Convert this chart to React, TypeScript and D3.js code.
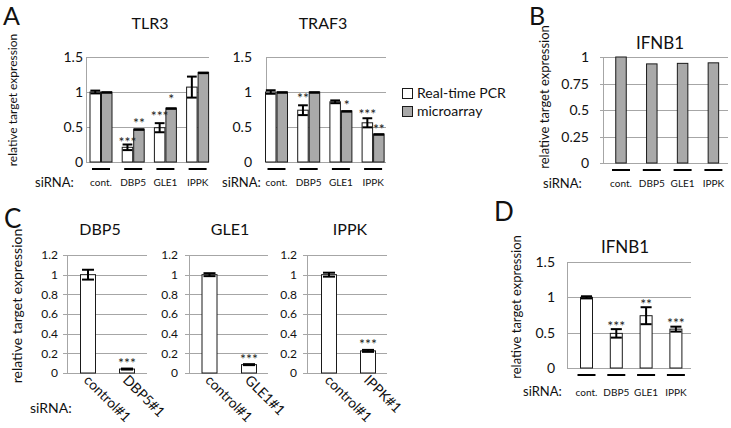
import * as d3 from 'd3'

const FONT = 'Lato, "Open Sans", sans-serif'
const GRID = '#a6a6a6'
const GRAY = '#a9a9a9'
const EDGE = '#1a1a1a'

// categories for A, B, D
const sirnaCats = ['cont.', 'DBP5', 'GLE1', 'IPPK']

// A - TLR3
const tlr3Pcr = [1.0, 0.21, 0.49, 1.07]
const tlr3PcrErr = [0.02, 0.04, 0.065, 0.15]
const tlr3PcrStars = ['', '***', '***', '']
const tlr3PcrStarAt = [0, 0.335, 0.7, 0]
const tlr3Micro = [1.0, 0.47, 0.77, 1.28]
const tlr3MicroErr = [0, 0, 0, 0]
const tlr3MicroStars = ['', '**', '*', '']
const tlr3MicroStarAt = [0, 0.6, 0.94, 0]

// A - TRAF3
const traf3Pcr = [1.0, 0.74, 0.86, 0.56]
const traf3PcrErr = [0.025, 0.07, 0.02, 0.065]
const traf3PcrStars = ['', '**', '', '***']
const traf3PcrStarAt = [0, 0.95, 0, 0.73]
const traf3Micro = [1.0, 1.0, 0.73, 0.4]
const traf3MicroErr = [0, 0, 0, 0]
const traf3MicroStars = ['', '', '*', '**']
const traf3MicroStarAt = [0, 0, 0.86, 0.51]

const ticksA = [0, 0.5, 1, 1.5]

// B - IFNB1 microarray
const ifnb1Micro = [1.0, 0.935, 0.94, 0.945]
const ticksB = [0, 0.25, 0.5, 0.75, 1]

// C - single siRNA knockdowns
const dbp5Cats = ['control#1', 'DBP5#1']
const dbp5Vals = [1.0, 0.04]
const dbp5Err = [0.05, 0.005]
const dbp5Stars = ['', '***']
const dbp5StarAt = [0, 0.13]

const gle1Cats = ['control#1', 'GLE1#1']
const gle1Vals = [1.0, 0.085]
const gle1Err = [0.015, 0.005]
const gle1Stars = ['', '***']
const gle1StarAt = [0, 0.17]

const ippkCats = ['control#1', 'IPPK#1']
const ippkVals = [1.0, 0.225]
const ippkErr = [0.02, 0.01]
const ippkStars = ['', '***']
const ippkStarAt = [0, 0.33]

const ticksC = [0, 0.2, 0.4, 0.6, 0.8, 1, 1.2]

// D - IFNB1 real-time PCR
const ifnb1Pcr = [1.0, 0.49, 0.74, 0.55]
const ifnb1PcrErr = [0.015, 0.06, 0.12, 0.035]
const ifnb1Stars = ['', '***', '**', '***']
const ifnb1StarAt = [0, 0.64, 0.95, 0.68]

interface Series {
  values: number[]
  errors?: number[]
  fill: string
  stars?: string[]
  starAt?: number[]
}

interface Frame {
  axisX: number
  gridEnd: number
  tickLen: number
  c0: number
  step: number
  barW: number
  yBase: number
  yTopPx: number
  yTopVal: number
  labelEnd: number
  tickFont: number
  title: string
  titleX: number
  titleY: number
  titleFont: number
  rotated?: boolean
  catY?: number
}

const STAR_FS = 14

function BarPanel({ cats, series, ticks, f }: { cats: string[]; series: Series[]; ticks: number[]; f: Frame }) {
  const groupW = f.barW * series.length
  const pi = 1 - groupW / f.step
  const x = d3.scaleBand<string>()
    .domain(cats)
    .range([f.c0 - f.step / 2, f.c0 + (cats.length - 0.5) * f.step])
    .paddingInner(pi)
    .paddingOuter(pi / 2)
  const xi = d3.scaleBand<number>().domain(series.map((_, i) => i)).range([0, x.bandwidth()])
  const y = d3.scaleLinear().domain([0, f.yTopVal]).range([f.yBase, f.yTopPx])
  const fmt = (v: number) => (v === 0 ? '0' : d3.format('')(+v.toFixed(2)))
  const capW = Math.min(xi.bandwidth() * 0.85, 12)

  return (
    <g>
      <text x={f.titleX} y={f.titleY} textAnchor="middle" fontSize={f.titleFont} fill="#111">{f.title}</text>
      {ticks.map((t) => (
        <g key={t}>
          <line x1={f.axisX - f.tickLen} x2={f.gridEnd} y1={Math.round(y(t)) + 0.5} y2={Math.round(y(t)) + 0.5} stroke={GRID} strokeWidth={1} />
          <text x={f.labelEnd} y={y(t)} dy="0.36em" textAnchor="end" fontSize={f.tickFont} fill="#111">{fmt(t)}</text>
        </g>
      ))}
      <line x1={f.axisX + 0.5} x2={f.axisX + 0.5} y1={y(ticks[ticks.length - 1])} y2={f.yBase} stroke={GRID} strokeWidth={1} />
      {series.map((s, si) => (
        <g key={si}>
          {cats.map((c, ci) => {
            const bx = (x(c) ?? 0) + (xi(si) ?? 0)
            const v = s.values[ci]
            return (
              <rect key={c} x={bx + 0.5} y={y(v)} width={xi.bandwidth() - 1} height={f.yBase - y(v)}
                fill={s.fill} stroke={EDGE} strokeWidth={1} />
            )
          })}
        </g>
      ))}
      {series.map((s, si) => (
        <g key={'e' + si}>
          {s.errors && cats.map((c, ci) => {
            const cx = (x(c) ?? 0) + (xi(si) ?? 0) + xi.bandwidth() / 2
            const v = s.values[ci]
            const e = s.errors![ci]
            if (e === 0) {
              return <line key={c} x1={cx - xi.bandwidth() / 2 + 0.5} x2={cx + xi.bandwidth() / 2 - 0.5} y1={y(v) + 0.5} y2={y(v) + 0.5} stroke="#000" strokeWidth={2.5} />
            }
            return (
              <g key={c} stroke="#000" strokeWidth={2}>
                <line x1={cx} x2={cx} y1={y(v + e)} y2={y(v - e)} />
                <line x1={cx - capW / 2} x2={cx + capW / 2} y1={y(v + e)} y2={y(v + e)} />
                <line x1={cx - capW / 2} x2={cx + capW / 2} y1={y(v - e)} y2={y(v - e)} />
              </g>
            )
          })}
          {s.stars && cats.map((c, ci) => {
            const st = s.stars![ci]
            if (!st) return null
            const cx = (x(c) ?? 0) + (xi(si) ?? 0) + xi.bandwidth() / 2
            return (
              <text key={c} x={cx} y={y(s.starAt![ci]) + STAR_FS * 0.57} textAnchor="middle" fontSize={STAR_FS} fill="#222">{st}</text>
            )
          })}
        </g>
      ))}
      {cats.map((c) => {
        const cx = (x(c) ?? 0) + x.bandwidth() / 2
        if (f.rotated) {
          return (
            <text key={c} x={cx - 5} y={f.yBase + 8} fontSize={14} fill="#111"
              transform={`rotate(45 ${cx - 5} ${f.yBase + 8})`}>{c}</text>
          )
        }
        return (
          <g key={c}>
            <line x1={cx - 9} x2={cx + 9} y1={f.yBase + 7} y2={f.yBase + 7} stroke="#000" strokeWidth={2} />
            <text x={cx} y={f.catY ?? f.yBase + 24} textAnchor="middle" fontSize={10} fill="#111">{c}</text>
          </g>
        )
      })}
    </g>
  )
}

function YLabel({ x, y, size }: { x: number; y: number; size: number }) {
  return (
    <text transform={`translate(${x},${y}) rotate(-90)`} textAnchor="middle" fontSize={size} fill="#111">
      relative target expression
    </text>
  )
}

export default function App() {
  const base = { tickLen: 0, tickFont: 14, titleFont: 16 }
  return (
    <svg width={731} height={428} viewBox="0 0 731 428"
      style={{ position: 'absolute', left: 0, top: 0, background: '#fff', fontFamily: FONT }}>
      {/* panel letters */}
      <text x={3} y={25} fontSize={25} fill="#111">A</text>
      <text x={529} y={25} fontSize={25} fill="#111">B</text>
      <text x={4} y={228} fontSize={26} fill="#111">C</text>
      <text x={494} y={221} fontSize={26} fill="#111">D</text>

      {/* A */}
      <YLabel x={17} y={100} size={12} />
      <BarPanel cats={sirnaCats} ticks={ticksA}
        series={[
          { values: tlr3Pcr, errors: tlr3PcrErr, fill: '#fff', stars: tlr3PcrStars, starAt: tlr3PcrStarAt },
          { values: tlr3Micro, errors: tlr3MicroErr, fill: GRAY, stars: tlr3MicroStars, starAt: tlr3MicroStarAt },
        ]}
        f={{ ...base, axisX: 86, gridEnd: 209, c0: 101, step: 32.2, barW: 11.5, yBase: 162, yTopPx: 57, yTopVal: 1.5,
          labelEnd: 83, title: 'TLR3', titleX: 150, titleY: 29 }} />
      <text x={35} y={187} fontSize={13} fill="#111">siRNA:</text>
      <BarPanel cats={sirnaCats} ticks={ticksA}
        series={[
          { values: traf3Pcr, errors: traf3PcrErr, fill: '#fff', stars: traf3PcrStars, starAt: traf3PcrStarAt },
          { values: traf3Micro, errors: traf3MicroErr, fill: GRAY, stars: traf3MicroStars, starAt: traf3MicroStarAt },
        ]}
        f={{ ...base, axisX: 266, gridEnd: 386, c0: 276.5, step: 32.2, barW: 11.5, yBase: 162, yTopPx: 57, yTopVal: 1.5,
          labelEnd: 252, title: 'TRAF3', titleX: 323, titleY: 29 }} />
      <text x={222} y={187} fontSize={13} fill="#111">siRNA:</text>

      {/* legend */}
      <rect x={402.5} y={88.5} width={10} height={10} fill="#fff" stroke={EDGE} />
      <text x={417} y={98} fontSize={14} fill="#111">Real-time PCR</text>
      <rect x={402.5} y={106.5} width={10} height={10} fill={GRAY} stroke={EDGE} />
      <text x={417} y={116} fontSize={14} fill="#111">microarray</text>

      {/* B */}
      <YLabel x={549} y={97} size={13} />
      <BarPanel cats={sirnaCats} ticks={ticksB}
        series={[{ values: ifnb1Micro, fill: GRAY }]}
        f={{ ...base, tickLen: 3, axisX: 603, gridEnd: 728, c0: 621, step: 30.8, barW: 11.5, yBase: 163, yTopPx: 57, yTopVal: 1,
          labelEnd: 589, title: 'IFNB1', titleX: 660, titleY: 49, titleFont: 17 }} />
      <text x={543} y={188} fontSize={13} fill="#111">siRNA:</text>

      {/* C */}
      <YLabel x={22} y={306} size={14} />
      <BarPanel cats={dbp5Cats} ticks={ticksC}
        series={[{ values: dbp5Vals, errors: dbp5Err, fill: '#fff', stars: dbp5Stars, starAt: dbp5StarAt }]}
        f={{ ...base, tickLen: 4, tickFont: 12, axisX: 67, gridEnd: 147, c0: 88, step: 39, barW: 16, yBase: 373, yTopPx: 255, yTopVal: 1.2,
          labelEnd: 58, title: 'DBP5', titleX: 100, titleY: 235, rotated: true }} />
      <BarPanel cats={gle1Cats} ticks={ticksC}
        series={[{ values: gle1Vals, errors: gle1Err, fill: '#fff', stars: gle1Stars, starAt: gle1StarAt }]}
        f={{ ...base, tickLen: 4, tickFont: 12, axisX: 189, gridEnd: 268, c0: 209.5, step: 39.5, barW: 16, yBase: 373, yTopPx: 255, yTopVal: 1.2,
          labelEnd: 178, title: 'GLE1', titleX: 230, titleY: 235, rotated: true }} />
      <BarPanel cats={ippkCats} ticks={ticksC}
        series={[{ values: ippkVals, errors: ippkErr, fill: '#fff', stars: ippkStars, starAt: ippkStarAt }]}
        f={{ ...base, tickLen: 4, tickFont: 12, axisX: 307, gridEnd: 387, c0: 329, step: 39, barW: 16, yBase: 373, yTopPx: 255, yTopVal: 1.2,
          labelEnd: 297, title: 'IPPK', titleX: 350, titleY: 235, rotated: true }} />
      <text x={30} y={413} fontSize={14} fill="#111">siRNA:</text>

      {/* D */}
      <YLabel x={521} y={307} size={13} />
      <BarPanel cats={sirnaCats} ticks={ticksA}
        series={[{ values: ifnb1Pcr, errors: ifnb1PcrErr, fill: '#fff', stars: ifnb1Stars, starAt: ifnb1StarAt }]}
        f={{ ...base, axisX: 567, gridEnd: 691, c0: 586.5, step: 29.8, barW: 13, yBase: 368, yTopPx: 262, yTopVal: 1.5,
          labelEnd: 555, title: 'IFNB1', titleX: 625, titleY: 253, titleFont: 17, catY: 396 }} />
      <text x={523} y={396} fontSize={13} fill="#111">siRNA:</text>
    </svg>
  )
}
